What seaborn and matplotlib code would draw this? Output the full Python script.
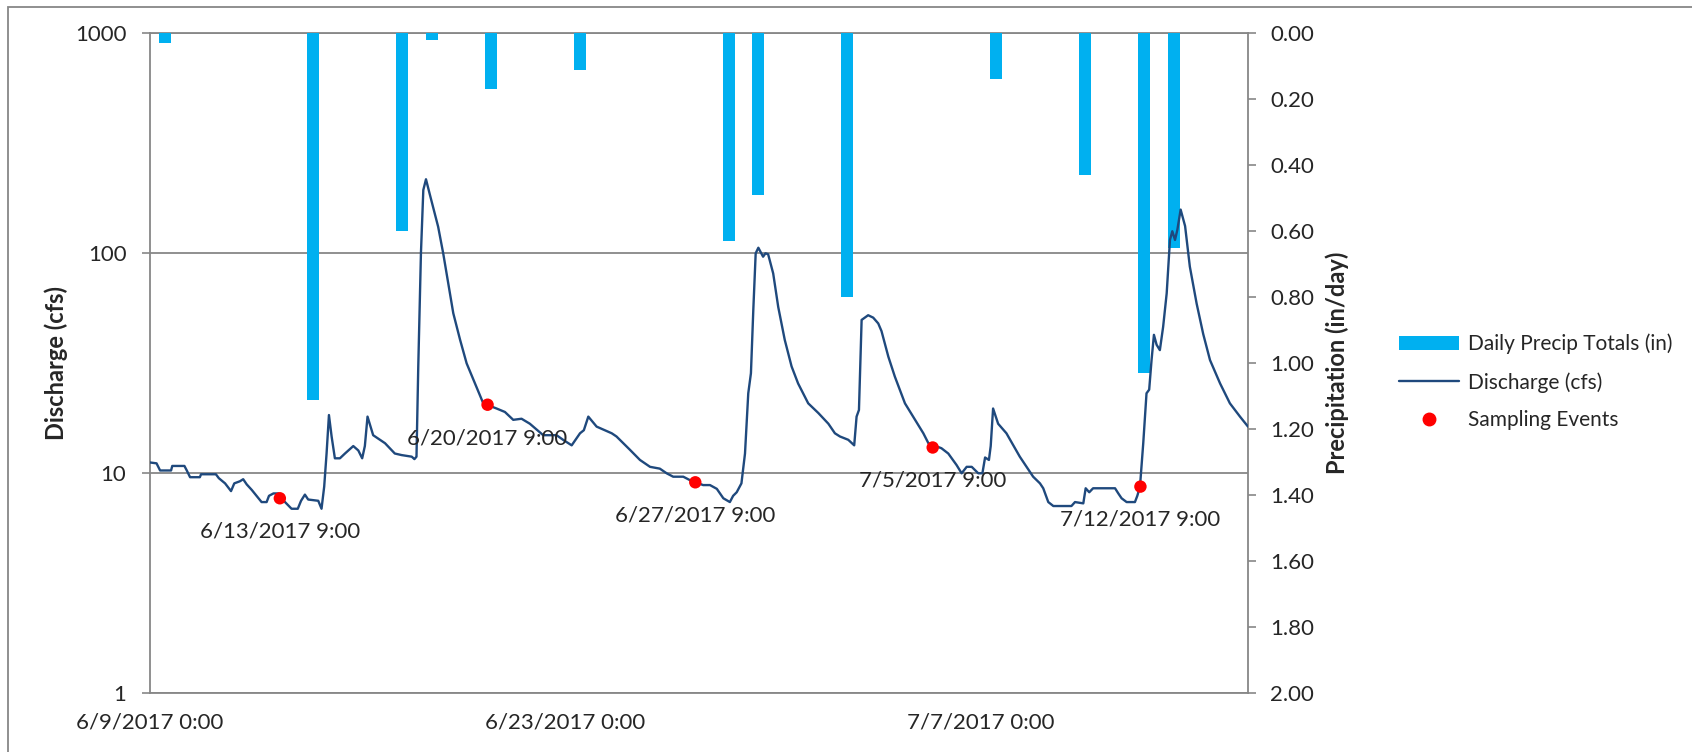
import numpy as np
import pandas as pd
import matplotlib
matplotlib.use('Agg')
import matplotlib.pyplot as plt
from matplotlib.patches import Rectangle
from matplotlib.lines import Line2D
from matplotlib.ticker import FixedLocator, NullLocator, NullFormatter
import seaborn as sns

# inicio del eje de tiempo
start = pd.Timestamp('2017-06-09 00:00')

# precipitacion diaria (in)
precip_dates = ['2017-06-09', '2017-06-14', '2017-06-17', '2017-06-18', '2017-06-20',
                '2017-06-23', '2017-06-28', '2017-06-29', '2017-07-02', '2017-07-07',
                '2017-07-10', '2017-07-12', '2017-07-13']
precip_in = [0.03, 1.11, 0.60, 0.02, 0.17, 0.11, 0.63, 0.49, 0.80, 0.14, 0.43, 1.03, 0.65]

# caudal (cfs), dias desde 6/9/2017 0:00
q_days = [0.00, 0.22, 0.34, 0.71, 0.75, 1.16, 1.24, 1.35, 1.68, 1.72, 2.22, 2.32, 2.53, 2.73,
          2.84, 3.03, 3.14, 3.26, 3.43, 3.59, 3.76, 3.93, 4.01, 4.16, 4.32, 4.55, 4.77, 4.98,
          5.09, 5.22, 5.33, 5.67, 5.78, 5.87, 5.95, 6.03, 6.12, 6.23, 6.40, 6.57, 6.74, 6.85,
          7.02, 7.15, 7.24, 7.33, 7.52, 7.92, 8.25, 8.48, 8.82, 8.91, 8.98, 9.04, 9.13, 9.21,
          9.30, 9.43, 9.71, 9.88, 10.22, 10.45, 10.67, 10.95, 11.23, 11.68, 11.96, 12.24,
          12.52, 12.80, 13.25, 13.70, 13.92, 14.21, 14.49, 14.62, 14.77, 15.05, 15.56, 15.72,
          16.17, 16.51, 16.85, 17.18, 17.41, 17.63, 17.97, 18.20, 18.64, 18.87, 19.10, 19.32,
          19.54, 19.65, 19.77, 19.93, 20.05, 20.16, 20.25, 20.33, 20.41, 20.50, 20.66, 20.74,
          20.83, 21.00, 21.17, 21.39, 21.62, 21.84, 22.18, 22.52, 22.86, 23.08, 23.25, 23.53,
          23.73, 23.81, 23.89, 23.98, 24.20, 24.37, 24.54, 24.65, 24.88, 25.10, 25.44, 25.78,
          26.06, 26.23, 26.67, 26.90, 27.18, 27.35, 27.52, 27.69, 27.91, 28.05, 28.14, 28.27,
          28.33, 28.41, 28.58, 28.86, 29.09, 29.31, 29.54, 29.76, 29.99, 30.10, 30.27, 30.44,
          31.05, 31.17, 31.45, 31.53, 31.65, 31.78, 32.52, 32.63, 32.74, 32.91, 33.19, 33.27,
          33.36, 33.47, 33.58, 33.67, 33.75, 33.83, 33.92, 34.03, 34.14, 34.26, 34.37, 34.45,
          34.54, 34.62, 34.73, 34.88, 35.04, 35.27, 35.49, 35.72, 36.06, 36.39, 36.73, 37.00]
q_cfs = [11.2, 11.1, 10.3, 10.3, 10.8, 10.8, 10.3, 9.6, 9.6, 9.9, 9.9, 9.5, 9.0, 8.3,
         9.0, 9.2, 9.4, 8.9, 8.4, 7.9, 7.4, 7.4, 7.9, 8.1, 8.1, 7.4, 6.9, 6.9,
         7.5, 8.0, 7.6, 7.5, 6.9, 8.7, 12.3, 18.4, 14.7, 11.7, 11.7, 12.3, 12.9, 13.3,
         12.7, 11.7, 13.3, 18.1, 14.9, 13.7, 12.3, 12.1, 11.9, 11.6, 11.9, 30.6, 100, 194,
         217, 185, 132, 100, 53.4, 40.4, 31.6, 25.6, 20.8, 19.7, 19.0, 17.5,
         17.7, 16.8, 14.9, 14.9, 14.2, 13.4, 15.2, 15.7, 18.1, 16.3, 15.2, 14.7,
         12.8, 11.5, 10.7, 10.5, 10.0, 9.65, 9.65, 9.3, 8.84, 8.84, 8.5, 7.7,
         7.4, 7.9, 8.2, 9.0, 12.3, 23.1, 28.5, 55.3, 100, 106, 96.5, 100,
         99, 81, 57, 40.4, 30.6, 25.6, 20.8, 18.8, 16.8, 15.2, 14.7, 14.2,
         13.4, 18.1, 19.4, 49.8, 52.3, 51, 48, 44.3, 33.9, 27.5, 20.8, 17.5,
         15.2, 13.7, 13.0, 12.3, 10.9, 10.0, 10.7, 10.7, 10.0, 10.0, 11.8, 11.5,
         13.3, 19.7, 16.8, 15.2, 13.4, 11.9, 10.7, 9.65, 9.0, 8.55, 7.4, 7.1,
         7.1, 7.4, 7.3, 8.55, 8.2, 8.55, 8.55, 8.1, 7.7, 7.4, 7.4, 7.9,
         8.7, 13.7, 23.1, 24.0, 32.7, 42.6, 38.4, 36.3, 46.3, 65.8, 115, 126,
         115, 128, 158, 133, 87, 59, 43, 32.7, 25.6, 20.8, 18.1, 16.3]

# eventos de muestreo
sample_times = ['6/13/2017 9:00', '6/20/2017 9:00', '6/27/2017 9:00',
                '7/5/2017 9:00', '7/12/2017 9:00']
sample_cfs = [7.7, 20.5, 9.1, 13.1, 8.7]

# etiquetas de los ejes
x_tick_days = [0, 14, 28]
x_tick_labels = ['6/9/2017 0:00', '6/23/2017 0:00', '7/7/2017 0:00']
y_tick_cfs = [1, 10, 100, 1000]
y_tick_precip = [0.0, 0.2, 0.4, 0.6, 0.8, 1.0, 1.2, 1.4, 1.6, 1.8, 2.0]

one_day = pd.Timedelta(days=1)
precip_day = (pd.to_datetime(precip_dates) - start) / one_day + 0.5
sample_day = (pd.to_datetime(sample_times, format='%m/%d/%Y %H:%M') - start) / one_day

df_p = pd.DataFrame({'day': precip_day, 'precip': precip_in})
df_q = pd.DataFrame({'day': q_days, 'cfs': q_cfs})
df_s = pd.DataFrame({'day': sample_day, 'cfs': sample_cfs, 'label': sample_times})

sns.set_style('white')
plt.rcParams['font.family'] = ['Lato', 'DejaVu Sans']

GRAY = '#878787'
BAR = '#00B0F0'
LINE = '#1F497D'

fig = plt.figure(figsize=(16.92, 7.52), dpi=100)
rect = [150 / 1692, 1 - 693.3 / 752, 1098 / 1692, 660 / 752]

# eje base: escala log, rejilla y ticks izquierdos
ax = fig.add_axes(rect)
ax.set_yscale('log')
ax.set_ylim(1, 1000)
ax.set_xlim(0, 37)
ax.yaxis.set_major_locator(FixedLocator(y_tick_cfs))
ax.yaxis.set_minor_locator(NullLocator())
ax.set_yticklabels([str(v) for v in y_tick_cfs])
ax.grid(True, axis='y', color=GRAY, linewidth=1.3)
ax.grid(False, axis='x')
ax.set_axisbelow(True)
ax.xaxis.set_major_locator(FixedLocator(x_tick_days))
ax.xaxis.set_minor_locator(FixedLocator(np.arange(0, 38, 1)))
ax.set_xticklabels(x_tick_labels)
ax.xaxis.set_minor_formatter(NullFormatter())
ax.tick_params(axis='x', which='major', direction='inout', length=11, width=1.2,
               color=GRAY, labelsize=16, pad=8)
ax.tick_params(axis='x', which='minor', direction='in', length=5, width=1.2, color=GRAY)
ax.tick_params(axis='y', which='major', direction='out', length=6, width=1.2,
               color=GRAY, labelsize=16, pad=11, left=True)
for s in ['left', 'bottom', 'top']:
    ax.spines[s].set_color(GRAY)
    ax.spines[s].set_linewidth(1.3)
ax.spines['right'].set_visible(False)
ax.set_ylabel('Discharge (cfs)', fontsize=17, fontweight='bold', labelpad=5)
ax.set_xlabel('')

# eje de precipitacion (invertido, a la derecha)
ax_p = ax.twinx()
sns.barplot(data=df_p, x='day', y='precip', native_scale=True, width=0.4,
            color=BAR, saturation=1, errorbar=None, linewidth=0, ax=ax_p)
ax_p.set_xlim(0, 37)
ax_p.set_ylim(2, 0)
ax_p.yaxis.set_major_locator(FixedLocator(y_tick_precip))
ax_p.set_yticklabels([f'{v:.2f}' for v in y_tick_precip])
ax_p.tick_params(axis='y', direction='out', length=6, width=1.2, color=GRAY,
                 labelsize=16, pad=10, right=True)
for s in ['left', 'bottom', 'top']:
    ax_p.spines[s].set_visible(False)
ax_p.spines['right'].set_color(GRAY)
ax_p.spines['right'].set_linewidth(1.3)
ax_p.set_ylabel('Precipitation (in/day)', fontsize=17, fontweight='bold', labelpad=8)
ax_p.set_xlabel('')

# eje superior para la linea de caudal y los puntos
ax_l = fig.add_axes(rect, sharex=ax, sharey=ax)
ax_l.axis('off')
sns.lineplot(data=df_q, x='day', y='cfs', color=LINE, linewidth=1.7, ax=ax_l)
sns.scatterplot(data=df_s, x='day', y='cfs', color='#FF0000', s=80, edgecolor='none',
                zorder=5, ax=ax_l)
for _, r in df_s.iterrows():
    ax_l.annotate(r['label'], (r['day'], r['cfs']), xytext=(0, -24),
                  textcoords='offset points', ha='center', va='center', fontsize=16)
ax.set_xlim(0, 37)
ax.set_ylim(1, 1000)

# leyenda
handles = [Rectangle((0, 0), 1, 1, facecolor=BAR, edgecolor='none'),
           Line2D([], [], color=LINE, linewidth=1.7),
           Line2D([], [], color='#FF0000', marker='o', linestyle='none', markersize=9)]
labels = ['Daily Precip Totals (in)', 'Discharge (cfs)', 'Sampling Events']
fig.legend(handles, labels, loc='center left', bbox_to_anchor=(1380 / 1692, 1 - 382 / 752),
           frameon=False, fontsize=15, handlelength=2.9, handleheight=0.7,
           labelspacing=0.85, handletextpad=0.4)

# borde del area del grafico
fig.add_artist(Rectangle((7.5 / 1692, -0.2), 1.5, 1.2 - 6.5 / 752, transform=fig.transFigure,
                         facecolor='none', edgecolor=GRAY, linewidth=1.3))

plt.savefig('out.png', dpi=100)
